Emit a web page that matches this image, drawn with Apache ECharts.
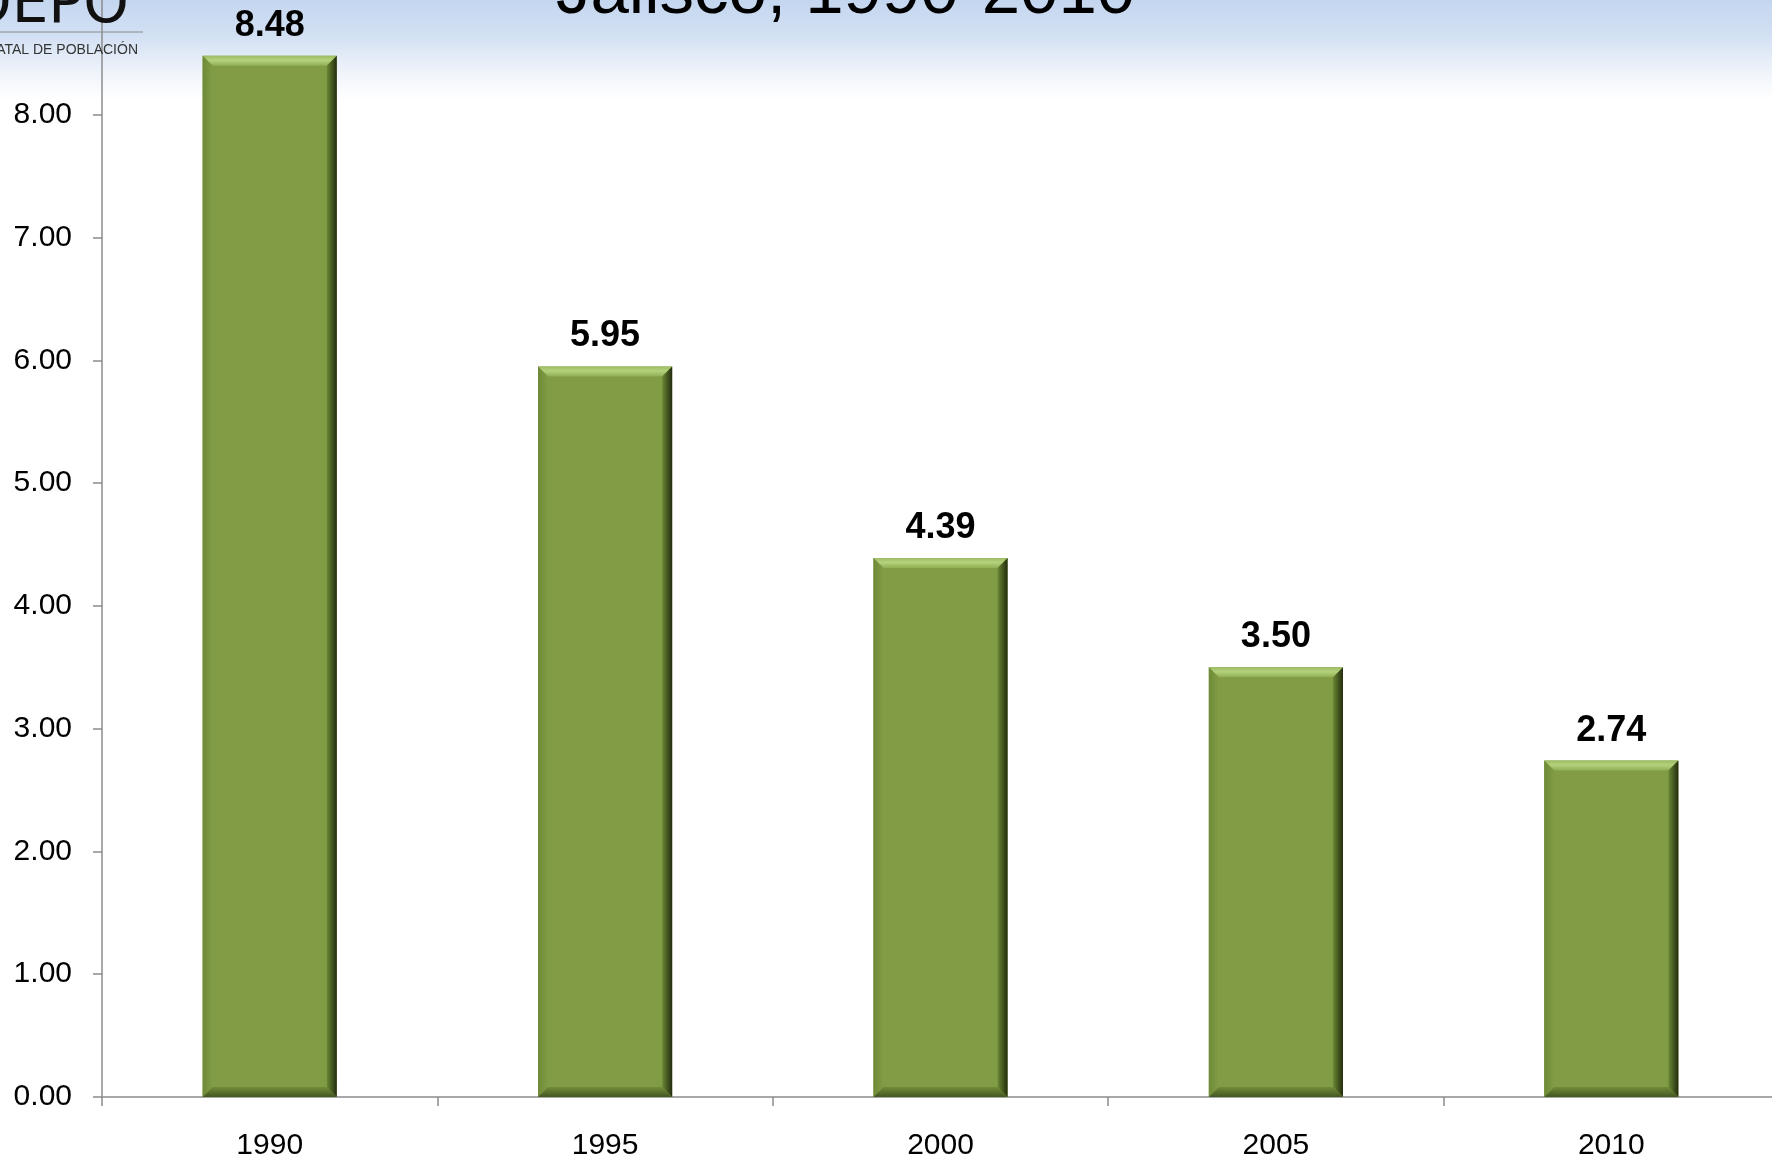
<!DOCTYPE html>
<html>
<head>
<meta charset="utf-8">
<script src="https://cdn.jsdelivr.net/npm/echarts@6/dist/echarts.min.js"></script>
<style>
  html, body { margin: 0; padding: 0; background: #fff; }
  #chart { width: 1772px; height: 1159px; }
</style>
</head>
<body>
<div id="chart"></div>
<script>
// Years on the category axis and the value drawn for each bar
const years = ['1990', '1995', '2000', '2005', '2010'];
const values = [8.48, 5.95, 4.39, 3.50, 2.74];
// Value axis range and step
const yMin = 0;
const yMax = 9;
const yStep = 1;

const FONT = '"Liberation Sans", Arial, sans-serif';

// Bevelled green column with its value written above it
function renderBar(params, api) {
  const idx = api.value(0);
  const val = api.value(1);
  const top = api.coord([idx, val]);
  const base = api.coord([idx, 0]);
  const band = api.size([1, 0])[0];
  const w = band * 0.4;
  const x0 = top[0] - w / 2, x1 = top[0] + w / 2;
  const y0 = top[1], y1 = base[1];
  const b = 10;
  const lg = (a, c, d, e, stops) => new echarts.graphic.LinearGradient(a, c, d, e, stops);
  return {
    type: 'group',
    children: [
      { type: 'rect', shape: { x: x0, y: y0, width: w, height: y1 - y0 },
        style: { fill: '#819c44' } },
      // top face
      { type: 'polygon', shape: { points: [[x0, y0], [x1, y0], [x1 - b, y0 + b], [x0 + b, y0 + b]] },
        style: { fill: lg(0, 0, 0, 1, [{ offset: 0, color: '#9dbc62' }, { offset: 0.45, color: '#b4d27c' }, { offset: 1, color: '#8fae52' }]) } },
      // left face
      { type: 'polygon', shape: { points: [[x0, y0], [x0 + b, y0 + b], [x0 + b, y1 - b], [x0, y1]] },
        style: { fill: lg(0, 0, 1, 0, [{ offset: 0, color: '#6f8a38' }, { offset: 1, color: '#819c44' }]) } },
      // right face
      { type: 'polygon', shape: { points: [[x1, y0], [x1, y1], [x1 - b, y1 - b], [x1 - b, y0 + b]] },
        style: { fill: lg(0, 0, 1, 0, [{ offset: 0, color: '#6c8836' }, { offset: 0.5, color: '#465a21' }, { offset: 1, color: '#232c0e' }]) } },
      // bottom face
      { type: 'polygon', shape: { points: [[x0, y1], [x1, y1], [x1 - b, y1 - b], [x0 + b, y1 - b]] },
        style: { fill: lg(0, 0, 0, 1, [{ offset: 0, color: '#718c3a' }, { offset: 1, color: '#445622' }]) } },
      // value label
      { type: 'text', x: top[0], y: y0 - 12,
        style: { text: val.toFixed(2), x: 0, y: 0, align: 'center', verticalAlign: 'bottom',
          fontFamily: FONT, fontWeight: 'bold', fontSize: 36, fill: '#000' } }
    ]
  };
}

const chart = echarts.init(document.getElementById('chart'), null, { renderer: 'canvas' });
chart.setOption({
  backgroundColor: '#ffffff',
  animation: false,
  graphic: [
    { type: 'rect', z: -10, shape: { x: 0, y: 0, width: 1772, height: 100 },
      style: { fill: new echarts.graphic.LinearGradient(0, 0, 0, 1, [
        { offset: 0, color: '#c4d6ef' }, { offset: 0.35, color: '#d2e0f3' },
        { offset: 0.75, color: '#f1f5fb' }, { offset: 1, color: '#ffffff' }]) } },
    // heading, running off the top edge
    { type: 'text', z: 5, x: 556, y: 28,
      style: { text: 'Jalisco, 1990-2010', fontFamily: FONT, fontSize: 69, fill: '#000',
        align: 'left', verticalAlign: 'bottom' } },
    // logo block in the corner
    { type: 'text', z: 5, x: 129, y: 36,
      style: { text: 'COEPO', fontFamily: '"DejaVu Sans", sans-serif', fontSize: 58, fontWeight: 'normal',
        fill: '#111', align: 'right', verticalAlign: 'bottom',
        shadowBlur: 6, shadowColor: 'rgba(0,0,0,0.35)', shadowOffsetY: 4 } },
    { type: 'line', z: 5, shape: { x1: 0, y1: 32, x2: 143, y2: 32 },
      style: { stroke: '#8a8a8a', lineWidth: 1 } },
    { type: 'text', z: 5, x: 138, y: 57,
      style: { text: 'CONSEJO ESTATAL DE POBLACIÓN', fontFamily: FONT, fontSize: 14, fill: '#333',
        align: 'right', verticalAlign: 'bottom',
        shadowBlur: 4, shadowColor: 'rgba(0,0,0,0.3)', shadowOffsetY: 3 } }
  ],
  grid: { left: 102, right: -7, top: -8, bottom: 62, containLabel: false, outerBoundsMode: 'none' },
  xAxis: {
    type: 'category',
    data: years,
    boundaryGap: true,
    axisLine: { show: true, lineStyle: { color: '#8c8c8c', width: 1.5 } },
    axisTick: { show: true, length: 9, alignWithLabel: false, lineStyle: { color: '#8c8c8c', width: 1.5 } },
    axisLabel: { margin: 34, fontFamily: FONT, fontSize: 30, color: '#000' },
    splitLine: { show: false }
  },
  yAxis: {
    type: 'value',
    min: yMin, max: yMax, interval: yStep,
    axisLine: { show: true, lineStyle: { color: '#8c8c8c', width: 1.5 } },
    axisTick: { show: true, length: 9, lineStyle: { color: '#8c8c8c', width: 1.5 } },
    axisLabel: { margin: 30, fontFamily: FONT, fontSize: 30, color: '#000',
      formatter: v => v.toFixed(2) },
    splitLine: { show: false }
  },
  series: [{
    type: 'custom',
    renderItem: renderBar,
    encode: { x: 0, y: 1 },
    data: values.map((v, i) => [i, v]),
    clip: false,
    z: 3
  }]
});
</script>
</body>
</html>
